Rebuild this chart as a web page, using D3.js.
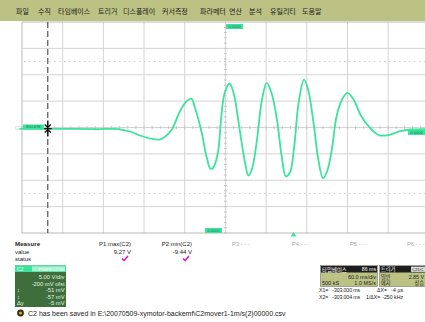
<!DOCTYPE html>
<html>
<head>
<meta charset="utf-8">
<script src="https://cdn.jsdelivr.net/npm/d3@7"></script>
<style>
  body { margin: 0; background: #fff; }
  svg { display: block; font-family: "Liberation Sans", "Noto Sans CJK KR", sans-serif; }
  .menu text { font-family: "Noto Sans CJK KR", sans-serif; font-size: 7px; fill: #222; }
  .small { font-size: 6px; fill: #222; }
  .cjk { font-family: "Noto Sans CJK KR", sans-serif; }
</style>
</head>
<body>
<svg id="scope" width="425" height="322"></svg>
<script>
// menu bar
const menuItems = ['파일', '수직', '타임베이스', '트리거', '디스플레이', '커서측정', '파라메터', '연산', '분석', '유틸리티', '도움말'];
const menuX = [16, 38, 58, 98, 123, 162, 200, 229, 249, 270, 302];

// C2 trace, time in ms, volts
const waveT = [-344, -284, -225, -198, -181, -166, -151, -137, -129, -119, -107, -97, -90, -85, -75, -68, -62, -58, -51, -46, -41, -34, -28, -19, -11, -6, -1, 6, 14, 21, 28, 36, 43, 49, 55, 61, 68, 76, 82, 90, 97, 104, 110, 117, 124, 132, 140, 149, 159, 171, 178, 188, 203, 218, 232, 259];
const waveV = [-0.05, -0.05, -0.09, -0.09, -0.56, -1.32, -1.89, -2.08, -1.56, -0.18, 3.29, 5.19, 5.64, 3.99, -0.75, -5.24, -7.63, -7.44, -4.54, 2.34, 6.78, 8.54, 6.78, -0.18, -6.49, -8.9, -7.76, -2.7, 5.51, 8.67, 6.78, 1.72, -5.24, -9.03, -8.39, -3.97, 4.88, 9.27, 7.4, 1.09, -5.87, -9.44, -8.09, -3.97, 2.34, 5.51, 6.78, 5.51, 2.67, 0.45, -0.5, -1.32, -1.13, -0.5, -0.18, -0.09];

const timeDomain = [-340, 260];   // 60 ms/div, 10 div
const voltDomain = [-19.8, 20.2]; // 5 V/div, -200 mV offset
const cursorT = -302;
const dottedLevels = [12.7, -12.3];
const paramLabels = ['P3:- - -', 'P4:- - -', 'P5:- - -', 'P6:- - -'];

const measureNames = ['P1:max(C2)', 'P2:min(C2)'];
const measureValues = ['9.27 V', '-9.44 V'];
const channelLines = ['5.00 V/div', '-200 mV ofst', '-51 mV', '-57 mV', '-5 mV'];
const channelSymbols = ['', '', '↕', '↕', 'Δy'];
const statusText = 'C2 has been saved in E:\\20070509-xymotor-backemf\\C2mover1-1m/s(2)00000.csv';
const readRows = [['X1=', '-303.000 ms', 'ΔX=', '-4 µs'], ['X2=', '-303.004 ms', '1/ΔX=', '-250 kHz']];

const svg = d3.select('#scope');
const green = '#3be39d';

// menu
const menu = svg.append('g').attr('class', 'menu');
menu.append('rect').attr('width', 425).attr('height', 21).attr('fill', '#bcc283');
menu.selectAll('text').data(menuItems).join('text')
  .attr('x', (d, i) => menuX[i]).attr('y', 13.5).text(d => d);

// scales
const x = d3.scaleLinear().domain(timeDomain).range([22, 428.8]);
const y = d3.scaleLinear().domain(voltDomain).range([233, 22]);

const grid = svg.append('g');
const xLines = d3.range(timeDomain[0], timeDomain[1] + 1, 60);
const yLines = d3.range(voltDomain[0], voltDomain[1] + 0.01, 5);

grid.selectAll('.vl').data(xLines).join('line').attr('class', 'vl')
  .attr('x1', d => x(d)).attr('x2', d => x(d)).attr('y1', y.range()[1]).attr('y2', y.range()[0])
  .attr('stroke', (d, i) => i === 0 ? '#b8b8b8' : '#d4d4d4').attr('stroke-width', 1);
grid.selectAll('.hl').data(yLines).join('line').attr('class', 'hl')
  .attr('y1', d => y(d)).attr('y2', d => y(d)).attr('x1', 22).attr('x2', 425)
  .attr('stroke', (d, i) => (i === 0 || i === yLines.length - 1) ? '#b8b8b8' : '#d4d4d4').attr('stroke-width', 1);

// dotted reference levels
grid.selectAll('.dl').data(dottedLevels).join('line')
  .attr('y1', d => y(d)).attr('y2', d => y(d)).attr('x1', 24).attr('x2', 425)
  .attr('stroke', '#cfcfcf').attr('stroke-dasharray', '1.5,3.5');

// minor ticks on center axes
const cx = x(timeDomain[0] + 300), cy = y(voltDomain[0] + 20);
const minorT = d3.range(timeDomain[0], timeDomain[1], 12);
const minorV = d3.range(voltDomain[0], voltDomain[1], 1);
grid.selectAll('.mt').data(minorT).join('line')
  .attr('x1', d => x(d)).attr('x2', d => x(d)).attr('y1', cy - 1.5).attr('y2', cy + 1.5).attr('stroke', '#c4c4c4');
grid.selectAll('.mv').data(minorV).join('line')
  .attr('y1', d => y(d)).attr('y2', d => y(d)).attr('x1', cx - 1.5).attr('x2', cx + 1.5).attr('stroke', '#c4c4c4');

// cursor
const curX = x(cursorT);
svg.append('line').attr('x1', curX).attr('x2', curX).attr('y1', 22).attr('y2', 233)
  .attr('stroke', '#555').attr('stroke-width', 1.2).attr('stroke-dasharray', '6,3');

// trace
const line = d3.line().x(d => x(d[0])).y(d => y(d[1])).curve(d3.curveCatmullRom.alpha(0.5));
svg.append('path').datum(d3.zip(waveT, waveV)).attr('d', line)
  .attr('fill', 'none').attr('stroke', green).attr('stroke-width', 1.8);

// cursor marker
const y0 = y(0);
svg.append('path')
  .attr('d', `M${curX},${y0 - 8}V${y0 + 8}M${curX - 3},${y0 - 4}L${curX},${y0 - 1}L${curX + 3},${y0 - 4}M${curX - 3},${y0 + 4}L${curX},${y0 + 1}L${curX + 3},${y0 + 4}M${curX - 4},${y0}H${curX + 4}`)
  .attr('stroke', '#111').attr('stroke-width', 1.3).attr('fill', 'none');

// green tags
function tag(x0, y0, w, h, label) {
  svg.append('rect').attr('x', x0).attr('y', y0).attr('width', w).attr('height', h).attr('fill', green);
  svg.append('text').attr('x', x0 + w / 2).attr('y', y0 + h - 1.2).attr('text-anchor', 'middle')
    .attr('font-size', 4).attr('fill', '#1b7a4f').text(label);
}
tag(23, 124.5, 21, 5, '800.67E');
svg.append('text').attr('x', 15).attr('y', 129.5).attr('font-size', 5).attr('fill', '#9be8c6').text('C2');
tag(226, 24, 17, 5, '0.0000');
tag(205, 228, 17, 5, '0.0000');
tag(408, 130, 17, 5, '0.0000');
svg.append('path').attr('d', 'M290.5,236.5L293.5,232L296.5,236.5Z').attr('fill', green);

// parameter placeholders
svg.selectAll('.pl').data(paramLabels).join('text').attr('class', 'pl')
  .attr('x', (d, i) => [232, 292, 350, 407][i]).attr('y', 245.5)
  .attr('font-size', 5.8).attr('fill', '#aaa').text(d => d);

// measure table
svg.append('text').attr('x', 15).attr('y', 246).attr('font-size', 6.2).attr('font-weight', 'bold').attr('fill', '#222').text('Measure');
svg.append('text').attr('class', 'small').attr('x', 15).attr('y', 253.5).text('value');
svg.append('text').attr('class', 'small').attr('x', 15).attr('y', 261).text('status');
const colRight = [131, 192];
svg.selectAll('.mn').data(measureNames).join('text').attr('class', 'small')
  .attr('x', (d, i) => colRight[i]).attr('y', 246).attr('text-anchor', 'end').text(d => d);
svg.selectAll('.mvv').data(measureValues).join('text').attr('class', 'small')
  .attr('x', (d, i) => colRight[i]).attr('y', 253.5).attr('text-anchor', 'end').text(d => d);
svg.selectAll('.ck').data(colRight).join('path')
  .attr('d', d => `M${d - 9},${258.5}L${d - 7},${260.5}L${d - 3},${256}`)
  .attr('stroke', '#e020c0').attr('stroke-width', 1.6).attr('fill', 'none');

// channel box
const ch = svg.append('g');
ch.append('rect').attr('x', 15).attr('y', 265.5).attr('width', 51).attr('height', 41.5).attr('fill', '#3e6e3c');
ch.append('rect').attr('x', 15).attr('y', 265.5).attr('width', 51).attr('height', 6.5).attr('fill', green);
ch.append('rect').attr('x', 32).attr('y', 266.3).attr('width', 33).attr('height', 5).attr('fill', '#a6f0cf');
ch.append('text').attr('x', 17).attr('y', 271).attr('font-size', 5).attr('fill', '#fff').text('C2');
ch.append('text').attr('x', 64).attr('y', 270.6).attr('text-anchor', 'end').attr('font-size', 4.2).attr('fill', '#fff').text('P1&P2 C2 50');
ch.selectAll('.cl').data(channelLines).join('text')
  .attr('x', 64.5).attr('y', (d, i) => 279 + i * 6.5).attr('text-anchor', 'end')
  .attr('font-size', 5.8).attr('fill', '#e6f2e2').text(d => d);
ch.selectAll('.cs').data(channelSymbols).join('text')
  .attr('x', 17).attr('y', (d, i) => 279 + i * 6.5)
  .attr('font-size', 5.8).attr('fill', '#e6f2e2').text(d => d);

// status line
svg.append('circle').attr('cx', 20.5).attr('cy', 313).attr('r', 3.4).attr('fill', '#3a2a10');
svg.append('circle').attr('cx', 20.5).attr('cy', 313).attr('r', 1.6).attr('fill', '#e0a020');
svg.append('text').attr('x', 28).attr('y', 315.5).attr('font-size', 7).attr('fill', '#222').text(statusText);

// timebase / trigger boxes
const tb = svg.append('g');
tb.append('rect').attr('x', 320.5).attr('y', 265.5).attr('width', 57).attr('height', 21).attr('fill', '#bcc283').attr('stroke', '#777').attr('stroke-width', 0.6);
tb.append('rect').attr('x', 321).attr('y', 266).attr('width', 56).attr('height', 6.5).attr('fill', '#1d1d1d');
tb.append('text').attr('class', 'cjk').attr('x', 322).attr('y', 271.6).attr('font-size', 5.4).attr('fill', '#fff').text('타임베이스');
tb.append('text').attr('x', 376).attr('y', 271.4).attr('text-anchor', 'end').attr('font-size', 5.2).attr('fill', '#fff').text('86 ms');
tb.append('text').attr('x', 376).attr('y', 278.5).attr('text-anchor', 'end').attr('font-size', 5.5).attr('fill', '#222').text('60.0 ms/div');
tb.append('text').attr('x', 322).attr('y', 285).attr('font-size', 5.5).attr('fill', '#222').text('500 kS');
tb.append('text').attr('x', 376).attr('y', 285).attr('text-anchor', 'end').attr('font-size', 5.5).attr('fill', '#222').text('1.0 MS/s');

tb.append('rect').attr('x', 379.5).attr('y', 265.5).attr('width', 50).attr('height', 21).attr('fill', '#bcc283').attr('stroke', '#777').attr('stroke-width', 0.6);
tb.append('rect').attr('x', 380).attr('y', 266).attr('width', 50).attr('height', 6.5).attr('fill', '#1d1d1d');
tb.append('text').attr('class', 'cjk').attr('x', 381).attr('y', 271.4).attr('font-size', 5.2).attr('fill', '#fff').text('트리거');
tb.append('rect').attr('x', 411).attr('y', 266.6).attr('width', 14).attr('height', 5.3).attr('fill', '#ddd');
tb.append('text').attr('x', 412).attr('y', 271.1).attr('font-size', 4.3).attr('fill', '#222').text('C2DC');
tb.append('text').attr('class', 'cjk').attr('x', 381).attr('y', 279.2).attr('font-size', 5.2).attr('fill', '#222').text('일반');
tb.append('text').attr('class', 'cjk').attr('x', 381).attr('y', 285.4).attr('font-size', 5.2).attr('fill', '#222').text('에지');
tb.append('text').attr('x', 424).attr('y', 278.5).attr('text-anchor', 'end').attr('font-size', 5.3).attr('fill', '#222').text('2.85 V');
tb.append('text').attr('class', 'cjk').attr('x', 424).attr('y', 285.4).attr('text-anchor', 'end').attr('font-size', 5.2).attr('fill', '#222').text('상승');

// cursor readouts
readRows.forEach((r, i) => {
  const yy = 291.5 + i * 7.5;
  const g = svg.append('g').attr('font-size', 5.2).attr('fill', '#222');
  g.append('text').attr('x', 319).attr('y', yy).text(r[0]);
  g.append('text').attr('x', 360).attr('y', yy).attr('text-anchor', 'end').attr('letter-spacing', -0.1).text(r[1]);
  g.append('text').attr('x', i === 0 ? 377 : 366).attr('y', yy).text(r[2]);
  g.append('text').attr('x', 403).attr('y', yy).attr('text-anchor', 'end').text(r[3]);
});
</script>
</body>
</html>
